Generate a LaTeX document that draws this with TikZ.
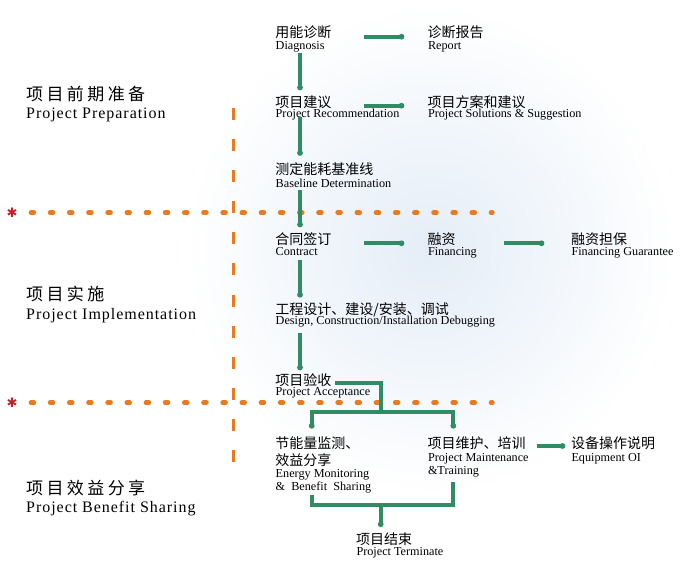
\documentclass[tikz,border=0pt]{standalone}
\usepackage{fontspec}
\setmainfont{Liberation Serif}
\newfontfamily\cjk{Noto Sans CJK SC}
\newfontfamily\cjkwide[LetterSpace=20]{Noto Sans CJK SC}
\newfontfamily\serifwide[LetterSpace=6]{Liberation Serif}
\newfontfamily\symfont{DejaVu Sans}
\definecolor{flowgreen}{RGB}{48,140,100}
\definecolor{dashorange}{RGB}{234,122,32}
\definecolor{starred}{RGB}{200,30,40}
\definecolor{globeblue}{RGB}{228,237,247}
\tikzset{
  zh/.style={anchor=base west, inner sep=0pt, font=\cjk\fontsize{14}{14}\selectfont},
  en/.style={anchor=base west, inner sep=0pt, font=\fontsize{12.2}{12.2}\selectfont},
  zhbig/.style={anchor=base west, inner sep=0pt, font=\cjkwide\fontsize{17}{17}\selectfont},
  enbig/.style={anchor=base west, inner sep=0pt, font=\serifwide\fontsize{16}{16}\selectfont},
  flowplain/.style={draw=flowgreen, line width=4pt},
  enddot/.style={fill=flowgreen},
  hdash/.style={draw=dashorange, line width=4.5pt, line cap=round, dash pattern=on 3pt off 16.17pt},
  vdash/.style={draw=dashorange, line width=3pt, dash pattern=on 12pt off 19.09pt},
  star/.style={inner sep=0pt, text=starred, font=\symfont\fontsize{13}{13}\selectfont}
}
\begin{document}
\begin{tikzpicture}[x=1pt,y=-1pt]
\useasboundingbox (0,0) rectangle (697,571);
\fill[white] (0,0) rectangle (697,571);
\shade[inner color=globeblue, outer color=white] (430,250) circle (245);

% orange phase separators
\draw[vdash] (233.3,108) -- (233.3,462);
\draw[hdash] (30.9,212.7) -- (492.4,212.7);
\draw[hdash] (30.9,402.7) -- (492.4,402.7);
\node[star] (s1) at (12,213) {✱};
\node[star] (s2) at (12,403) {✱};

% phase labels
\node[zhbig] (p1z) at (26,100.5) {项目前期准备};
\node[enbig] (p1e) at (26,118.3) {Project Preparation};
\node[zhbig] (p2z) at (26,300.5) {项目实施};
\node[enbig] (p2e) at (26,319.3) {Project Implementation};
\node[zhbig] (p3z) at (26,494.8) {项目效益分享};
\node[enbig] (p3e) at (26,512.7) {Project Benefit Sharing};

% main column
\node[zh] (diagz) at (275.2,37.3) {用能诊断};
\node[en] (diage) at (275.5,49.3) {Diagnosis};
\node[zh] (recz) at (275.2,107.8) {项目建议};
\node[en] (rece) at (275.5,117.3) {Project Recommendation};
\node[zh] (basez) at (275.2,174.7) {测定能耗基准线};
\node[en] (basee) at (275.5,187.3) {Baseline Determination};
\node[zh] (conz) at (275.2,244) {合同签订};
\node[en] (cone) at (275.5,255.7) {Contract};
\node[zh] (desz) at (275.2,314) {工程设计、建设/安装、调试};
\node[en] (dese) at (275.5,324) {Design, Construction/Installation Debugging};
\node[zh] (accz) at (275.2,385.7) {项目验收};
\node[en] (acce) at (275.5,395) {Project Acceptance};

% second column
\node[zh] (repz) at (427.5,37.3) {诊断报告};
\node[en] (repe) at (427.8,49.3) {Report};
\node[zh] (solz) at (427.5,107.8) {项目方案和建议};
\node[en] (sole) at (427.8,117.3) {Project Solutions \& Suggestion};
\node[zh] (finz) at (427.5,244) {融资};
\node[en] (fine) at (427.8,255.7) {Financing};
\node[zh] (guaz) at (571,244) {融资担保};
\node[en] (guae) at (571.3,255.7) {Financing Guarantee};

% benefit stage
\node[zh] (engz) at (275.2,448.3) {节能量监测、};
\node[zh] (engz2) at (275.2,465.3) {效益分享};
\node[en] (enge) at (275.5,477.3) {Energy Monitoring};
\node[en] (enge2) at (275.5,490.7) {\&\ \ Benefit\ \ Sharing};
\node[zh] (mntz) at (427.5,448.3) {项目维护、培训};
\node[en] (mnte) at (427.8,461.7) {Project Maintenance};
\node[en] (mnte2) at (427.8,474) {\&Training};
\node[zh] (eqz) at (571,448.3) {设备操作说明};
\node[en] (eqe) at (571.3,461.7) {Equipment OI};
\node[zh] (endz) at (356,544) {项目结束};
\node[en] (ende) at (356.3,555) {Project Terminate};

% connector end points (dot centres at the arrow ends)
\coordinate (d1) at (300,53.3);  \coordinate (r1) at (300,87.5);
\coordinate (r2) at (300,116.7); \coordinate (b1) at (300,153);
\coordinate (b2) at (300,190);   \coordinate (c1) at (300,224.5);
\coordinate (c2) at (300,260);   \coordinate (g1) at (300,294.8);
\coordinate (g2) at (300,333.3); \coordinate (a1) at (300,367.5);
\coordinate (h1a) at (364,36.7);  \coordinate (h1b) at (401.5,36.7);
\coordinate (h2a) at (364,105.7); \coordinate (h2b) at (401.5,105.7);
\coordinate (h3a) at (364,243.3); \coordinate (h3b) at (401.5,243.3);
\coordinate (h4a) at (504,243.3); \coordinate (h4b) at (541.5,243.3);
\coordinate (h5a) at (536.7,446); \coordinate (h5b) at (562.5,446);
\coordinate (a2) at (335,382.7);  \coordinate (t1) at (380.7,411.7);
\coordinate (e1) at (311.7,425.8); \coordinate (m1) at (453.3,425.8);
\coordinate (e2) at (311.7,495);   \coordinate (m2) at (453.3,481.7);
\coordinate (j1) at (380.7,505);   \coordinate (f1) at (380.7,524.2);

% vertical flow
\draw[flowplain] (d1) -- (r1);
\draw[flowplain] (r2) -- (b1);
\draw[flowplain] (b2) -- (c1);
\draw[flowplain] (c2) -- (g1);
\draw[flowplain] (g2) -- (a1);
% horizontal flow
\draw[flowplain] (h1a) -- (h1b);
\draw[flowplain] (h2a) -- (h2b);
\draw[flowplain] (h3a) -- (h3b);
\draw[flowplain] (h4a) -- (h4b);
\draw[flowplain] (h5a) -- (h5b);
% branching after acceptance
\draw[flowplain] (a2) -| (t1);
\draw[flowplain] (e1) |- (t1 -| m1) -- (m1);
\draw[flowplain] (e2) |- (j1 -| m2) -- (m2);
\draw[flowplain] (j1) -- (f1);
% end dots
\foreach \p in {r1,b1,c1,g1,a1,h1b,h2b,h3b,h4b,h5b,e1,m1,f1}
  \fill[enddot] (\p) circle (2.9);
\end{tikzpicture}
\end{document}
